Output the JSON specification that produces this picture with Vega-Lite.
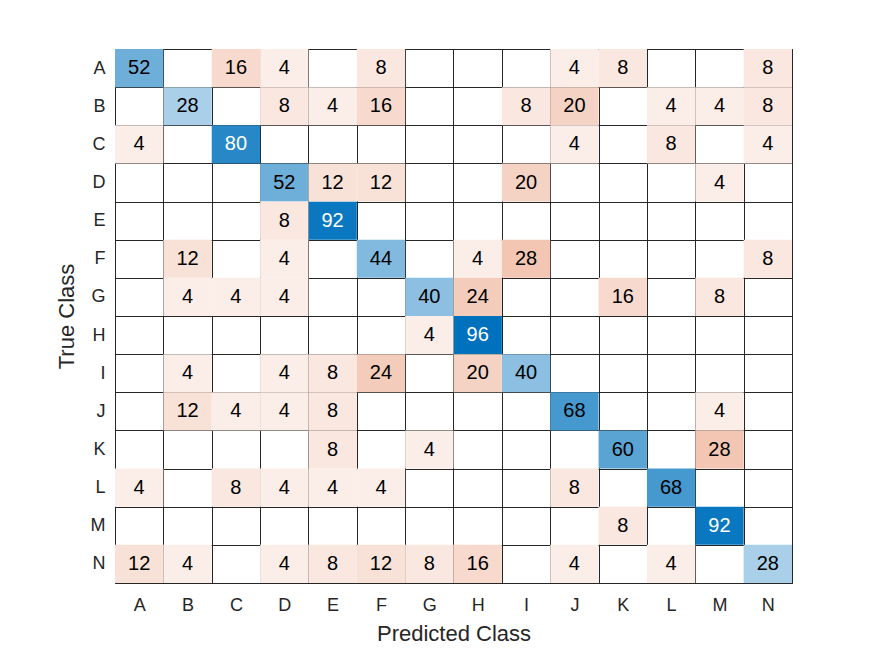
{
  "$schema": "https://vega.github.io/schema/vega-lite/v6.json",
  "width": 677,
  "height": 534,
  "autosize": {"type": "none"},
  "padding": {"left": 115, "top": 49, "right": 83, "bottom": 73},
  "background": "#ffffff",
  "config": {
    "font": "Liberation Sans",
    "view": {"stroke": "#262626", "strokeWidth": 1},
    "axis": {
      "labelFont": "Liberation Sans",
      "titleFont": "Liberation Sans",
      "labelFontSize": 18,
      "titleFontSize": 22,
      "titleFontWeight": "normal",
      "labelColor": "#262626",
      "titleColor": "#262626",
      "domain": false,
      "ticks": false,
      "grid": true,
      "gridColor": "#262626",
      "gridOpacity": 1,
      "gridWidth": 1,
      "tickBand": "extent",
      "zindex": 1
    }
  },
  "data": {
    "values": [
      {"t":"A","p":"A","v":52},{"t":"A","p":"C","v":16},{"t":"A","p":"D","v":4},{"t":"A","p":"F","v":8},{"t":"A","p":"J","v":4},{"t":"A","p":"K","v":8},{"t":"A","p":"N","v":8},
      {"t":"B","p":"B","v":28},{"t":"B","p":"D","v":8},{"t":"B","p":"E","v":4},{"t":"B","p":"F","v":16},{"t":"B","p":"I","v":8},{"t":"B","p":"J","v":20},{"t":"B","p":"L","v":4},{"t":"B","p":"M","v":4},{"t":"B","p":"N","v":8},
      {"t":"C","p":"A","v":4},{"t":"C","p":"C","v":80},{"t":"C","p":"J","v":4},{"t":"C","p":"L","v":8},{"t":"C","p":"N","v":4},
      {"t":"D","p":"D","v":52},{"t":"D","p":"E","v":12},{"t":"D","p":"F","v":12},{"t":"D","p":"I","v":20},{"t":"D","p":"M","v":4},
      {"t":"E","p":"D","v":8},{"t":"E","p":"E","v":92},
      {"t":"F","p":"B","v":12},{"t":"F","p":"D","v":4},{"t":"F","p":"F","v":44},{"t":"F","p":"H","v":4},{"t":"F","p":"I","v":28},{"t":"F","p":"N","v":8},
      {"t":"G","p":"B","v":4},{"t":"G","p":"C","v":4},{"t":"G","p":"D","v":4},{"t":"G","p":"G","v":40},{"t":"G","p":"H","v":24},{"t":"G","p":"K","v":16},{"t":"G","p":"M","v":8},
      {"t":"H","p":"G","v":4},{"t":"H","p":"H","v":96},
      {"t":"I","p":"B","v":4},{"t":"I","p":"D","v":4},{"t":"I","p":"E","v":8},{"t":"I","p":"F","v":24},{"t":"I","p":"H","v":20},{"t":"I","p":"I","v":40},
      {"t":"J","p":"B","v":12},{"t":"J","p":"C","v":4},{"t":"J","p":"D","v":4},{"t":"J","p":"E","v":8},{"t":"J","p":"J","v":68},{"t":"J","p":"M","v":4},
      {"t":"K","p":"E","v":8},{"t":"K","p":"G","v":4},{"t":"K","p":"K","v":60},{"t":"K","p":"M","v":28},
      {"t":"L","p":"A","v":4},{"t":"L","p":"C","v":8},{"t":"L","p":"D","v":4},{"t":"L","p":"E","v":4},{"t":"L","p":"F","v":4},{"t":"L","p":"J","v":8},{"t":"L","p":"L","v":68},
      {"t":"M","p":"K","v":8},{"t":"M","p":"M","v":92},
      {"t":"N","p":"A","v":12},{"t":"N","p":"B","v":4},{"t":"N","p":"D","v":4},{"t":"N","p":"E","v":8},{"t":"N","p":"F","v":12},{"t":"N","p":"G","v":8},{"t":"N","p":"H","v":16},{"t":"N","p":"J","v":4},{"t":"N","p":"L","v":4},{"t":"N","p":"N","v":28}
    ]
  },
  "encoding": {
    "x": {
      "field": "p", "type": "nominal",
      "scale": {"domain": ["A","B","C","D","E","F","G","H","I","J","K","L","M","N"], "paddingInner": 0, "paddingOuter": 0},
      "axis": {"title": "Predicted Class", "orient": "bottom", "labelAngle": 0, "labelPadding": 13, "titlePadding": 9}
    },
    "y": {
      "field": "t", "type": "nominal",
      "scale": {"domain": ["A","B","C","D","E","F","G","H","I","J","K","L","M","N"], "paddingInner": 0, "paddingOuter": 0},
      "axis": {"title": "True Class", "labelPadding": 10, "titlePadding": 12}
    }
  },
  "layer": [
    {
      "transform": [{"filter": "datum.t == datum.p"}],
      "mark": {"type": "rect"},
      "encoding": {
        "color": {"field": "v", "type": "quantitative", "scale": {"domain": [-6, 96], "range": ["#ffffff", "#0072BD"], "interpolate": "rgb"}, "legend": null}
      }
    },
    {
      "transform": [{"filter": "datum.t != datum.p"}],
      "mark": {"type": "rect"},
      "encoding": {
        "fill": {"field": "v", "type": "quantitative", "scale": {"domain": [-6, 96], "range": ["#ffffff", "#D95319"], "interpolate": "rgb"}, "legend": null}
      }
    },
    {
      "mark": {"type": "text", "fontSize": 20, "font": "Liberation Sans"},
      "encoding": {
        "text": {"field": "v", "type": "quantitative"},
        "color": {"condition": {"test": "datum.v >= 80", "value": "#ffffff"}, "value": "#000000"}
      }
    }
  ],
  "resolve": {"scale": {"color": "independent", "fill": "independent"}}
}
